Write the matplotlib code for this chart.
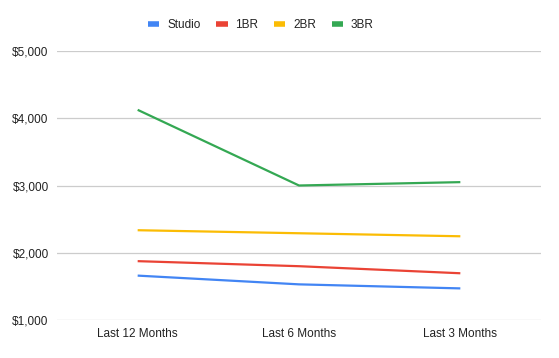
import matplotlib
matplotlib.use("Agg")
import matplotlib.pyplot as plt
from matplotlib.ticker import FuncFormatter

plt.rcParams['font.family'] = ['Liberation Sans', 'DejaVu Sans']

periods = ["Last 12 Months", "Last 6 Months", "Last 3 Months"]
studio = [1660, 1530, 1470]
br1 = [1875, 1800, 1695]
br2 = [2335, 2290, 2245]
br3 = [4125, 3000, 3050]

series = [("Studio", studio, "#4285F4"),
          ("1BR", br1, "#EA4335"),
          ("2BR", br2, "#FBBC04"),
          ("3BR", br3, "#34A853")]

fig = plt.figure(figsize=(5.59, 3.58), dpi=100)
ax = fig.add_axes([57/559, 38/358, 484/559, 269/358])

x = list(range(len(periods)))
for name, vals, col in series:
    ax.plot(x, vals, color=col, lw=1.6, label=name, solid_capstyle="butt")

ax.set_xlim(-0.5, 2.5)
ax.set_ylim(1000, 5000)
ax.set_yticks([1000, 2000, 3000, 4000, 5000])
ax.yaxis.set_major_formatter(FuncFormatter(lambda v, p: "${:,.0f}".format(v)))
ax.set_xticks(x)
ax.set_xticklabels(periods)
ax.grid(axis="y", color="#cccccc", lw=0.9)
ax.set_axisbelow(True)
for s in ax.spines.values():
    s.set_visible(False)
ax.tick_params(length=0, labelsize=8.5, colors="#222222", pad=6)

# легенда сверху по центру
fig.legend(loc="center", bbox_to_anchor=(261/559, 1 - 25/358), ncol=4, frameon=False,
           fontsize=8.5, handlelength=0.95, handleheight=0.5, columnspacing=1.35,
           handletextpad=0.65, labelcolor="#222222")
for h in fig.legends[0].get_lines():
    h.set_linewidth(4)

fig.savefig("out.png", dpi=100)
